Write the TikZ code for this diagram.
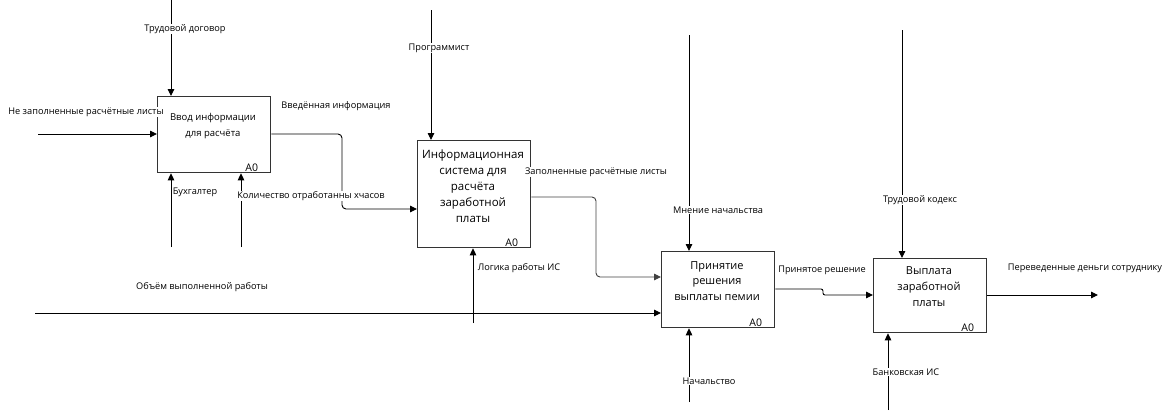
\documentclass[tikz,border=0pt]{standalone}
\usepackage{fontspec}
\setmainfont{Open Sans}
\usetikzlibrary{arrows.meta}
\begin{document}
\begin{tikzpicture}[x=1pt,y=-1pt,
  box/.style={draw=black!80, line width=1.3pt, fill=white, anchor=north west, inner sep=0pt},
  arr/.style={draw=black, line width=0.9pt, -{Triangle[length=7pt,width=6.5pt]}},
  lbl/.style={font=\fontsize{9.2}{10}\selectfont, fill=white, inner sep=0.5pt},
  btxt/.style={align=center, inner sep=0pt},
  anum/.style={font=\fontsize{10.5}{12}\selectfont, inner sep=0pt, anchor=south east}]
\useasboundingbox (0,0) rectangle (1172,410);
% boxes
\node[box, minimum width=113pt, minimum height=76pt] (b1) at (157,96) {};
\node[box, minimum width=113pt, minimum height=107pt] (b2) at (417,140) {};
\node[box, minimum width=113pt, minimum height=76pt] (b3) at (661,251) {};
\node[box, minimum width=113pt, minimum height=74pt] (b4) at (873,258) {};
% box texts
\node[btxt, font=\fontsize{9.5}{16}\selectfont] (t1) at (213,126) {Ввод информации\\для расчёта};
\node[btxt, font=\fontsize{11.5}{16}\selectfont] (t2) at (473,186) {Информационная\\система для\\расчёта\\заработной\\платы};
\node[btxt, font=\fontsize{11}{15.5}\selectfont] (t3) at (717,281) {Принятие\\решения\\выплаты пемии};
\node[btxt, font=\fontsize{11}{16}\selectfont] (t4) at (929,287) {Выплата\\заработной\\платы};
\node[anum] (a1) at ([xshift=-13pt,yshift=2pt]b1.south east) {A0};
\node[anum] (a2) at ([xshift=-13pt,yshift=2pt]b2.south east) {A0};
\node[anum] (a3) at ([xshift=-13pt,yshift=2pt]b3.south east) {A0};
\node[anum] (a4) at ([xshift=-13pt,yshift=2pt]b4.south east) {A0};
% free ends and bends
\coordinate (c1) at (171,0);
\coordinate (i1) at (38,134);
\coordinate (m1a) at (171,247);
\coordinate (m1b) at (241,247);
\coordinate (o1a) at (342,134);
\coordinate (o1b) at (342,209);
\coordinate (c2) at (431,10);
\coordinate (m2) at (473,323);
\coordinate (o2a) at (596,197);
\coordinate (o2b) at (596,277);
\coordinate (i3) at (35,313);
\coordinate (c3) at (689,35);
\coordinate (m3) at (689,402);
\coordinate (o3a) at (823,289);
\coordinate (o3b) at (828,295);
\coordinate (c4) at (902,30);
\coordinate (m4) at (888,410);
\coordinate (o4) at (1098,295);
% connectors
\draw[arr] (c1) -- (c1 |- b1.north);
\draw[arr] (i1) -- (i1 -| b1.west);
\draw[arr] (m1a) -- (m1a |- b1.south);
\draw[arr] (m1b) -- (m1b |- b1.south);
\draw[arr, rounded corners=4pt] (b1.east |- i1) -- (o1a) -- (o1b) -- (o1b -| b2.west);
\draw[arr] (c2) -- (c2 |- b2.north);
\draw[arr] (m2) -- (m2 |- b2.south);
\draw[arr, draw=black!75, rounded corners=4pt] (b2.east |- o2a) -- (o2a) -- (o2b) -- (o2b -| b3.west);
\draw[arr] (i3) -- (i3 -| b3.west);
\draw[arr] (c3) -- (c3 |- b3.north);
\draw[arr] (m3) -- (m3 |- b3.south);
\draw[arr, rounded corners=2pt] (b3.east |- o3a) -- (o3a) -- (o3a |- o3b) -- (o3b -| b4.west);
\draw[arr] (c4) -- (c4 |- b4.north);
\draw[arr] (m4) -- (m4 |- b4.south);
\draw[arr] (b4.east |- o4) -- (o4);
% labels
\node[lbl] (l1) at (185,29) {Трудовой договор};
\node[lbl] (l2) at (86,112) {Не заполненные расчётные листы};
\node[lbl] (l3) at (336,106) {Введённая информация};
\node[lbl] (l4) at (195,192) {Бухгалтер};
\node[lbl] (l5) at (311,196) {Количество отработанны хчасов};
\node[lbl] (l6) at (439,48) {Программист};
\node[lbl] (l7) at (519,268) {Логика работы ИС};
\node[lbl] (l8) at (596,172) {Заполненные расчётные листы};
\node[lbl] (l9) at (202,287) {Объём выполненной работы};
\node[lbl] (l10) at (718,210) {Мнение начальства};
\node[lbl] (l11) at (709,381) {Начальство};
\node[lbl] (l12) at (822,270) {Принятое решение};
\node[lbl] (l13) at (920,200) {Трудовой кодекс};
\node[lbl] (l14) at (906,372) {Банковская ИС};
\node[lbl] (l15) at (1085,268) {Переведенные деньги сотруднику};
\end{tikzpicture}
\end{document}
